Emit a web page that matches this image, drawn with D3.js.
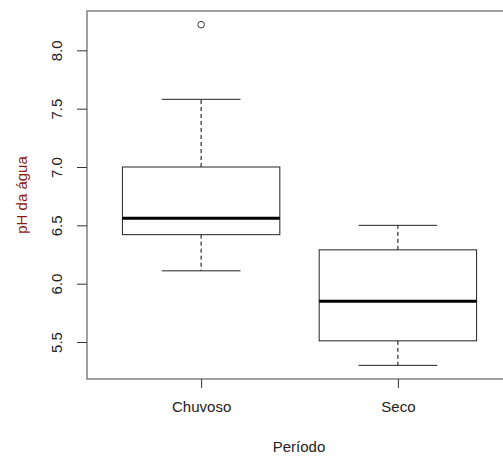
<!doctype html>
<meta charset="utf-8">
<style>
body { margin: 0; background: #fff; }
text { font-family: "Liberation Sans", Arial, sans-serif; }
.frame { fill: none; stroke: #6e6e6e; stroke-width: 1.3px; }
.box { fill: #fff; stroke: #222; stroke-width: 1px; }
.median { stroke: #000; stroke-width: 3px; }
.whisker { stroke: #000; stroke-width: 1px; stroke-dasharray: 4,3; }
.cap { stroke: #222; stroke-width: 1px; }
</style>
<html lang="pt">
<body>
<script src="https://d3js.org/d3.v7.min.js"></script>
<script>
// box statistics
var periods = ["Chuvoso", "Seco"];
var lowWhisker = [6.11, 5.30];
var q1 = [6.42, 5.51];
var median = [6.56, 5.85];
var q3 = [7.00, 6.29];
var highWhisker = [7.58, 6.50];
var outliers = [[8.22], []];
var yTicks = [5.5, 6.0, 6.5, 7.0, 7.5, 8.0];

var width = 503, height = 460;
var plotLeft = 87, plotTop = 11, plotBottom = 379, plotRight = 512;

var svg = d3.select("body").append("svg")
    .attr("width", width)
    .attr("height", height);

// R style: positions 1..n, xlim 0.5..n+0.5 plus 4%
var x = d3.scaleLinear().domain([0.42, 2.58]).range([plotLeft, plotRight]);
var y = d3.scaleLinear().domain([5.183, 8.337]).range([plotBottom, plotTop]);

var data = periods.map(function(p, i) {
  return {name: p, pos: i + 1, lo: lowWhisker[i], q1: q1[i], med: median[i],
          q3: q3[i], hi: highWhisker[i], out: outliers[i]};
});

var g = svg.selectAll(".grp").data(data).enter().append("g");

// whiskers (dashed)
g.append("line").attr("class", "whisker")
    .attr("x1", function(d) { return x(d.pos); })
    .attr("x2", function(d) { return x(d.pos); })
    .attr("y1", function(d) { return y(d.q3); })
    .attr("y2", function(d) { return y(d.hi); });
g.append("line").attr("class", "whisker")
    .attr("x1", function(d) { return x(d.pos); })
    .attr("x2", function(d) { return x(d.pos); })
    .attr("y1", function(d) { return y(d.q1); })
    .attr("y2", function(d) { return y(d.lo); });

// caps
["hi", "lo"].forEach(function(k) {
  g.append("line").attr("class", "cap")
      .attr("x1", function(d) { return x(d.pos - 0.2); })
      .attr("x2", function(d) { return x(d.pos + 0.2); })
      .attr("y1", function(d) { return y(d[k]); })
      .attr("y2", function(d) { return y(d[k]); });
});

// boxes
g.append("rect").attr("class", "box")
    .attr("x", function(d) { return x(d.pos - 0.4); })
    .attr("width", function(d) { return x(d.pos + 0.4) - x(d.pos - 0.4); })
    .attr("y", function(d) { return y(d.q3); })
    .attr("height", function(d) { return y(d.q1) - y(d.q3); });

// medians
g.append("line").attr("class", "median")
    .attr("x1", function(d) { return x(d.pos - 0.4); })
    .attr("x2", function(d) { return x(d.pos + 0.4); })
    .attr("y1", function(d) { return y(d.med); })
    .attr("y2", function(d) { return y(d.med); });

// outliers
g.selectAll("circle").data(function(d) { return d.out.map(function(v) { return {pos: d.pos, v: v}; }); })
  .enter().append("circle")
    .attr("cx", function(d) { return x(d.pos); })
    .attr("cy", function(d) { return y(d.v); })
    .attr("r", 3.3)
    .attr("fill", "none")
    .attr("stroke", "#333")
    .attr("stroke-width", 1);

// frame
svg.append("rect").attr("class", "frame")
    .attr("x", plotLeft).attr("y", plotTop)
    .attr("width", plotRight - plotLeft).attr("height", plotBottom - plotTop);

// y axis
var yAxis = svg.append("g")
    .attr("transform", "translate(" + plotLeft + ",0)")
    .call(d3.axisLeft(y).tickValues(yTicks).tickFormat(d3.format(".1f")).tickSize(10));
yAxis.select(".domain").remove();
yAxis.selectAll("line").attr("stroke", "#333");
yAxis.selectAll("text")
    .attr("font-size", "15px")
    .attr("fill", "#222")
    .attr("x", 0).attr("y", 0).attr("dy", "0.35em")
    .attr("transform", "translate(-30,0) rotate(-90)")
    .attr("text-anchor", "middle");

// x axis
var xAxis = svg.append("g")
    .attr("transform", "translate(0," + plotBottom + ")")
    .call(d3.axisBottom(x).tickValues([1, 2]).tickFormat(function(d) { return periods[d - 1]; })
      .tickSize(9).tickPadding(13));
xAxis.select(".domain").remove();
xAxis.selectAll("line").attr("stroke", "#333");
xAxis.selectAll("text").attr("font-size", "15px").attr("fill", "#222");

// axis titles
svg.append("text")
    .attr("x", 299).attr("y", 452)
    .attr("text-anchor", "middle")
    .attr("font-size", "15px")
    .attr("fill", "#222")
    .text("Período");

svg.append("text")
    .attr("transform", "translate(27," + (plotTop + plotBottom) / 2 + ") rotate(-90)")
    .attr("text-anchor", "middle")
    .attr("font-size", "15px")
    .attr("fill", "#8b1a1a")
    .text("pH da água");
</script>
</body>
</html>
